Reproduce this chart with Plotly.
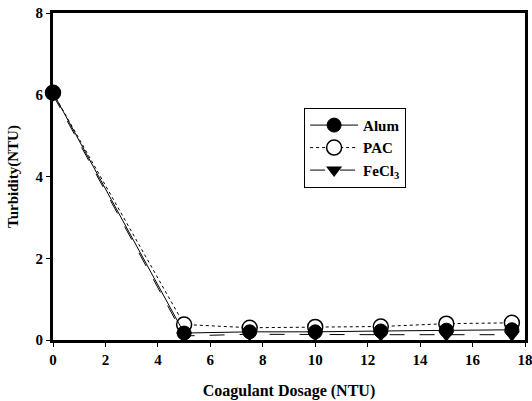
import plotly.graph_objects as go

dosage = [0, 5, 7.5, 10, 12.5, 15, 17.5]
alum = [6.05, 0.17, 0.2, 0.2, 0.22, 0.24, 0.25]
pac = [6.05, 0.38, 0.3, 0.32, 0.33, 0.4, 0.42]
fecl3 = [6.0, 0.1, 0.14, 0.13, 0.13, 0.13, 0.13]

x_ticks = [0, 2, 4, 6, 8, 10, 12, 14, 16, 18]
y_ticks = [0, 2, 4, 6, 8]

FONT = "Liberation Serif, Times New Roman, serif"

fig = go.Figure()
fig.add_trace(go.Scatter(
    x=dosage, y=pac, name="PAC", mode="lines+markers",
    line=dict(color="black", width=1, dash="dot"),
    marker=dict(symbol="circle", size=15, color="white", line=dict(color="black", width=1.5)),
))
fig.add_trace(go.Scatter(
    x=dosage, y=alum, name="Alum", mode="lines+markers",
    line=dict(color="black", width=1),
    marker=dict(symbol="circle", size=14, color="black", line=dict(color="black", width=1)),
))
fig.add_trace(go.Scatter(
    x=dosage, y=fecl3, name="FeCl<sub>3</sub>", mode="lines+markers",
    line=dict(color="black", width=1, dash="longdash"),
    marker=dict(symbol="triangle-down", size=14, color="black"),
))

fig.update_layout(
    width=532, height=401,
    margin=dict(l=53, r=7, t=13, b=61, autoexpand=False),
    paper_bgcolor="white", plot_bgcolor="white",
    font=dict(family=FONT, size=15, color="black", weight="bold"),
    showlegend=True,
    legend=dict(
        x=0.532, y=0.71, xanchor="left", yanchor="top",
        bordercolor="black", borderwidth=1, bgcolor="white",
        font=dict(family=FONT, size=15, color="black", weight="bold"),
        traceorder="normal", itemwidth=48, tracegroupgap=0,
    ),
    xaxis=dict(
        range=[0, 18], tickvals=x_ticks, ticktext=[str(v) for v in x_ticks],
        showline=True, linecolor="black", linewidth=3, mirror=True,
        ticks="outside", ticklen=4, tickwidth=1, tickcolor="black",
        showgrid=False, zeroline=False, automargin=False,
        ticklabeloverflow="allow",
        title=dict(text="Coagulant Dosage (NTU)", standoff=18,
                   font=dict(family=FONT, size=16, weight="bold")),
    ),
    yaxis=dict(
        range=[0, 8], tickvals=y_ticks, ticktext=[str(v) for v in y_ticks],
        showline=True, linecolor="black", linewidth=3, mirror=True,
        ticks="outside", ticklen=4, tickwidth=1, tickcolor="black",
        showgrid=False, zeroline=False, automargin=False,
        ticklabeloverflow="allow",
        title=dict(text="Turbidity(NTU)", standoff=14,
                   font=dict(family=FONT, size=15, weight="bold")),
    ),
)

fig.data[1].legendrank = 1
fig.data[0].legendrank = 2
fig.data[2].legendrank = 3
for t in fig.data:
    t.cliponaxis = False

fig.write_html("out.html")
